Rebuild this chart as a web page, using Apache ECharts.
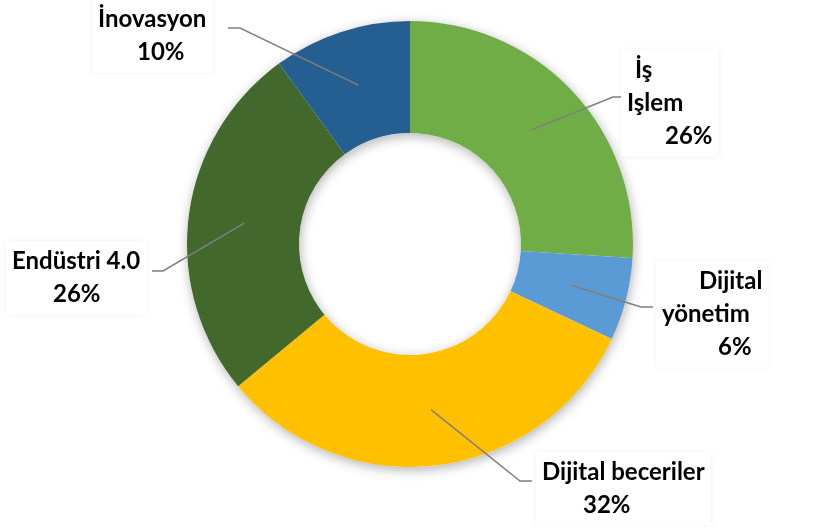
<!DOCTYPE html>
<html>
<head>
<meta charset="utf-8">
<script src="https://cdn.jsdelivr.net/npm/echarts@6/dist/echarts.min.js"></script>
<style>
html, body { margin: 0; padding: 0; background: #fff; }
#chart { width: 813px; height: 527px; }
</style>
</head>
<body>
<div id="chart"></div>
<script>
// data
var categories = ['İş Işlem', 'Dijital yönetim', 'Dijital beceriler', 'Endüstri 4.0', 'İnovasyon'];
var values = [26, 6, 32, 26, 10];
var colors = ['#70AD47', '#5B9BD5', '#FFC000', '#43682B', '#255E91'];

// label layout: block left/middle, per-line left indent, leader line elbow + end
var breakName = [true, true, false, false, false];
var labelAnchor = [[621, 103], [656, 314], [536, 489], [6, 278], [92, 36]];
var lineIndent = [[8, 0, 38], [37, 0, 56], [0, 41], [0, 41], [0, 39]];
var lineEnds = [
    [[613, 97], [621, 97]],
    [[641, 307], [653, 307]],
    [[520, 481], [532, 481]],
    [[163, 271], [152, 271]],
    [[240, 28], [228, 28]]
];

var chart = echarts.init(document.getElementById('chart'));

var textBase = {
    fontFamily: 'Lato',
    fontWeight: 'bold',
    fontSize: 24,
    lineHeight: 33,
    color: '#000'
};

var ringData = [];
var labelData = [];
categories.forEach(function (name, i) {
    ringData.push({ name: name, value: values[i], itemStyle: { color: colors[i] } });
    var parts = breakName[i] ? name.split(' ') : [name];
    parts.push(values[i] + '%');
    var rich = {};
    var txt = [];
    parts.forEach(function (p, k) {
        rich['l' + k] = Object.assign({}, textBase, { padding: [0, 0, 0, lineIndent[i][k]] });
        txt.push('{l' + k + '|' + p + '}');
    });
    labelData.push({
        name: name,
        value: values[i],
        label: { formatter: txt.join('\n'), rich: rich }
    });
});

var option = {
    animation: false,
    series: [
        {
            // shadow behind the ring
            type: 'pie',
            center: [410, 244],
            radius: [111, 223],
            silent: true,
            z: 1,
            label: { show: false },
            labelLine: { show: false },
            itemStyle: {
                color: '#fff',
                shadowBlur: 12,
                shadowColor: 'rgba(0,0,0,0.3)',
                shadowOffsetX: 1,
                shadowOffsetY: 3
            },
            data: [{ value: 1 }]
        },
        {
            type: 'pie',
            center: [410, 244],
            radius: [111, 223],
            startAngle: 90,
            clockwise: true,
            silent: true,
            z: 2,
            label: { show: false },
            labelLine: { show: false },
            itemStyle: { borderWidth: 0 },
            data: ringData
        },
        {
            // invisible mid-ring pie, only carries the labels
            type: 'pie',
            center: [410, 244],
            radius: [0, 167],
            startAngle: 90,
            clockwise: true,
            silent: true,
            z: 5,
            avoidLabelOverlap: false,
            itemStyle: { color: 'rgba(0,0,0,0)' },
            label: {
                show: true,
                position: 'outside',
                backgroundColor: '#fff',
                padding: [4, 6],
                shadowBlur: 6,
                shadowColor: 'rgba(0,0,0,0.06)'
            },
            labelLine: {
                show: true,
                lineStyle: { color: '#7F7F7F', width: 1.5 }
            },
            labelLayout: function (params) {
                var i = params.dataIndex;
                var res = {
                    x: labelAnchor[i][0],
                    y: labelAnchor[i][1],
                    align: 'left',
                    verticalAlign: 'middle'
                };
                if (params.labelLinePoints) {
                    res.labelLinePoints = [params.labelLinePoints[0], lineEnds[i][0], lineEnds[i][1]];
                }
                return res;
            },
            data: labelData
        }
    ]
};

chart.setOption(option);
</script>
</body>
</html>
